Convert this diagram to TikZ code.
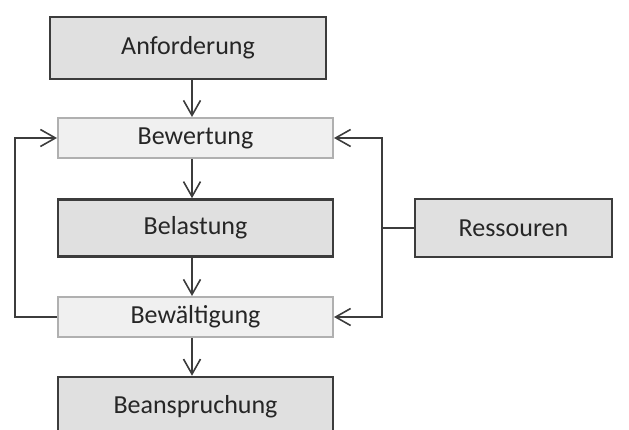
\documentclass[tikz,border=0pt]{standalone}
\usepackage{fontspec}
\setmainfont{Carlito}
\usetikzlibrary{arrows.meta}
\definecolor{darkfill}{HTML}{E0E0E0}
\definecolor{lightfill}{HTML}{F0F0F0}
\definecolor{darkline}{HTML}{3C3C3C}
\definecolor{lightline}{HTML}{B0B0B0}
\definecolor{txt}{HTML}{262626}
\tikzset{
  darkbox/.style={draw=darkline, fill=darkfill, line width=2.6pt, inner sep=0pt,
    minimum width=275pt, text=txt, font=\fontsize{26}{30}\selectfont},
  lightbox/.style={draw=lightline, fill=lightfill, line width=2pt, inner sep=0pt,
    minimum width=275pt, minimum height=40pt, text=txt, font=\fontsize{26}{30}\selectfont},
  conn/.style={draw=darkline, line width=1.6pt},
  arr/.style={conn, -{Straight Barb[length=15pt,width=17pt,line width=1.6pt]}}
}
\begin{document}
\begin{tikzpicture}[x=1pt,y=-1pt]
\useasboundingbox (0,0) rectangle (629,430);
\begin{scope}
\clip (0,0) rectangle (629,430);
\node[darkbox, minimum width=276pt, minimum height=62pt] (anf) at (188,48) {Anforderung};
\node[lightbox] (bew) at (195.5,138) {Bewertung};
\node[darkbox, minimum height=57pt] (bel) at (195.5,228) {Belastung};
\node[lightbox] (bwg) at (195.5,317) {Bewältigung};
\node[darkbox, minimum height=60pt] (bea) at (195.5,407) {Beanspruchung};
\node[darkbox, minimum width=197pt, minimum height=58pt] (res) at (513.5,228) {Ressouren};
\coordinate (ax) at (192,0);
\coordinate (lx) at (15,0);
\coordinate (rx) at (382,0);
\draw[arr] (anf.south -| ax) -- (bew.north -| ax);
\draw[arr] (bew.south -| ax) -- (bel.north -| ax);
\draw[arr] (bel.south -| ax) -- (bwg.north -| ax);
\draw[arr] (bwg.south -| ax) -- (bea.north -| ax);
\draw[arr] (bwg.west) -- (bwg.west -| lx) -- (bew.west -| lx) -- (bew.west);
\draw[conn] (res.west) -- (res.west -| rx);
\draw[arr] (res.west -| rx) -- (bew.east -| rx) -- (bew.east);
\draw[arr] (res.west -| rx) -- (bwg.east -| rx) -- (bwg.east);
\end{scope}
\end{tikzpicture}
\end{document}
